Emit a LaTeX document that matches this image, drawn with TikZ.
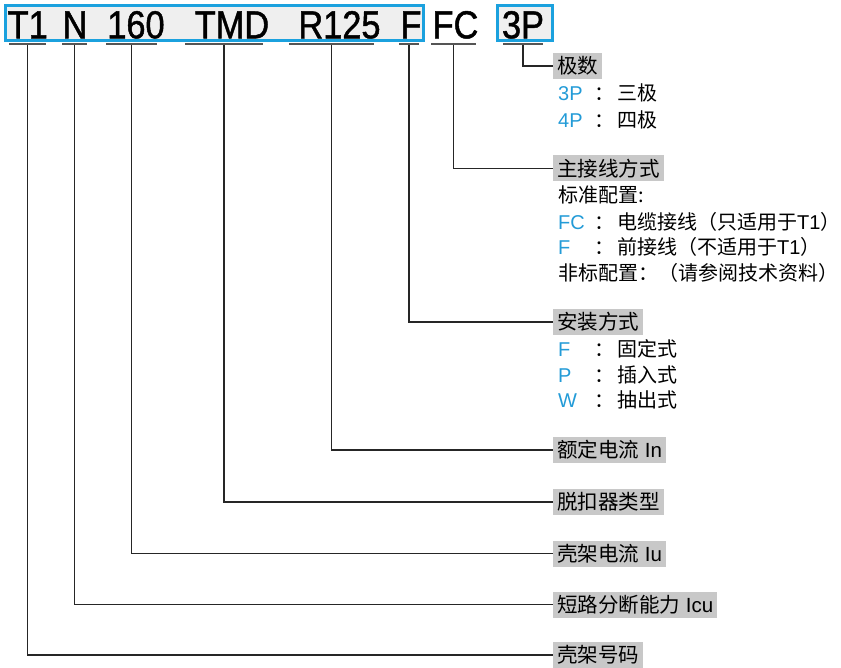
\documentclass[tikz,border=0pt]{standalone}
\usepackage{fontspec}
\usepackage{xcolor}
\usepackage{tikz}
\setmainfont{Liberation Sans}
\newfontfamily\zh{Noto Sans CJK SC}
\newfontfamily\codefont[FakeStretch=0.88,FakeBold=1.2]{Liberation Sans}
\definecolor{boxblue}{RGB}{27,161,222}
\definecolor{optblue}{RGB}{35,155,215}
\definecolor{codefill}{RGB}{239,239,239}
\definecolor{labgray}{RGB}{200,200,200}
\definecolor{linegray}{RGB}{85,85,85}
\newcommand{\opt}[2]{\makebox[36pt][l]{\color{optblue}#1}\makebox[23pt][l]{\zh ：}#2}

\begin{document}
\begin{tikzpicture}[x=1pt,y=-1pt,
  code/.style={anchor=base,inner sep=0pt,font=\codefont\fontsize{39}{44}\selectfont},
  uline/.style={fill=linegray,minimum width=#1,minimum height=2pt,inner sep=0pt},
  lab/.style={fill=labgray,anchor=west,inner xsep=4pt,inner ysep=0pt,minimum height=26pt,font=\fontsize{20.5}{24}\selectfont},
  item/.style={anchor=west,inner sep=0pt,font=\fontsize{20}{24}\selectfont},
  conn/.style={draw=black!85,line width=1.4pt}]
\useasboundingbox (0,0) rectangle (841,668);
\draw [boxblue, fill=codefill, line width=3pt] (5.8,5.8) rectangle (423.5,41);
\draw [boxblue, fill=codefill, line width=3pt] (497.5,5.8) rectangle (552.5,41);
\node[code] (cT1) at (27.7,38.3) {T1};
\node[code] (cN) at (75,38.3) {N};
\node[code] (c160) at (136,38.3) {160};
\node[code] (cTMD) at (232,38.3) {TMD};
\node[code] (cR125) at (339.5,38.3) {R125};
\node[code] (cF) at (411,38.3) {F};
\node[code] (cFC) at (455.5,38.3) {FC};
\node[code] (c3P) at (523,38.3) {3P};
\node[uline=37pt] (uT1) at (27.5,43.8) {};
\node[uline=25pt] (uN) at (74.5,43.8) {};
\node[uline=51pt] (u160) at (131.5,43.8) {};
\node[uline=78pt] (uTMD) at (224,43.8) {};
\node[uline=85pt] (uR125) at (331.5,43.8) {};
\node[uline=20pt] (uF) at (409,43.8) {};
\node[uline=45pt] (uFC) at (453.5,43.8) {};
\node[uline=40pt] (u3P) at (523,43.8) {};
\node[lab] (lPole) at (553,66) {\zh 极数};
\node[lab] (lWire) at (553,168.5) {\zh 主接线方式};
\node[lab] (lMount) at (553,322) {\zh 安装方式};
\node[lab] (lIn) at (553,450) {{\zh 额定电流} In};
\node[lab] (lTrip) at (553,502) {\zh 脱扣器类型};
\node[lab] (lIu) at (553,553.5) {{\zh 壳架电流} Iu};
\node[lab] (lIcu) at (553,604.5) {{\zh 短路分断能力} Icu};
\node[lab] (lFrame) at (553,655) {\zh 壳架号码};
\node[item] (o3P) at (558,93) {\opt{3P}{\zh 三极}};
\node[item] (o4P) at (558,120) {\opt{4P}{\zh 四极}};
\node[item] (sStd) at (558,195) {\zh 标准配置:};
\node[item] (oFC) at (558,222) {\opt{FC}{{\zh 电缆接线（只适用于}T1{\zh ）}}};
\node[item] (oF) at (558,247) {\opt{F}{{\zh 前接线（不适用于}T1{\zh ）}}};
\node[item] (sNon) at (558,273) {\zh 非标配置：（请参阅技术资料）};
\node[item] (oFix) at (558,349) {\opt{F}{\zh 固定式}};
\node[item] (oPlug) at (558,375) {\opt{P}{\zh 插入式}};
\node[item] (oDraw) at (558,400) {\opt{W}{\zh 抽出式}};
\draw [conn] (u3P.south) |- (lPole.west);
\draw [conn] (uFC.south) |- (lWire.west);
\draw [conn] (uF.south) |- (lMount.west);
\draw [conn] (uR125.south) |- (lIn.west);
\draw [conn] (uTMD.south) |- (lTrip.west);
\draw [conn] (u160.south) |- (lIu.west);
\draw [conn] (uN.south) |- (lIcu.west);
\draw [conn] (uT1.south) |- (lFrame.west);
\end{tikzpicture}
\end{document}
